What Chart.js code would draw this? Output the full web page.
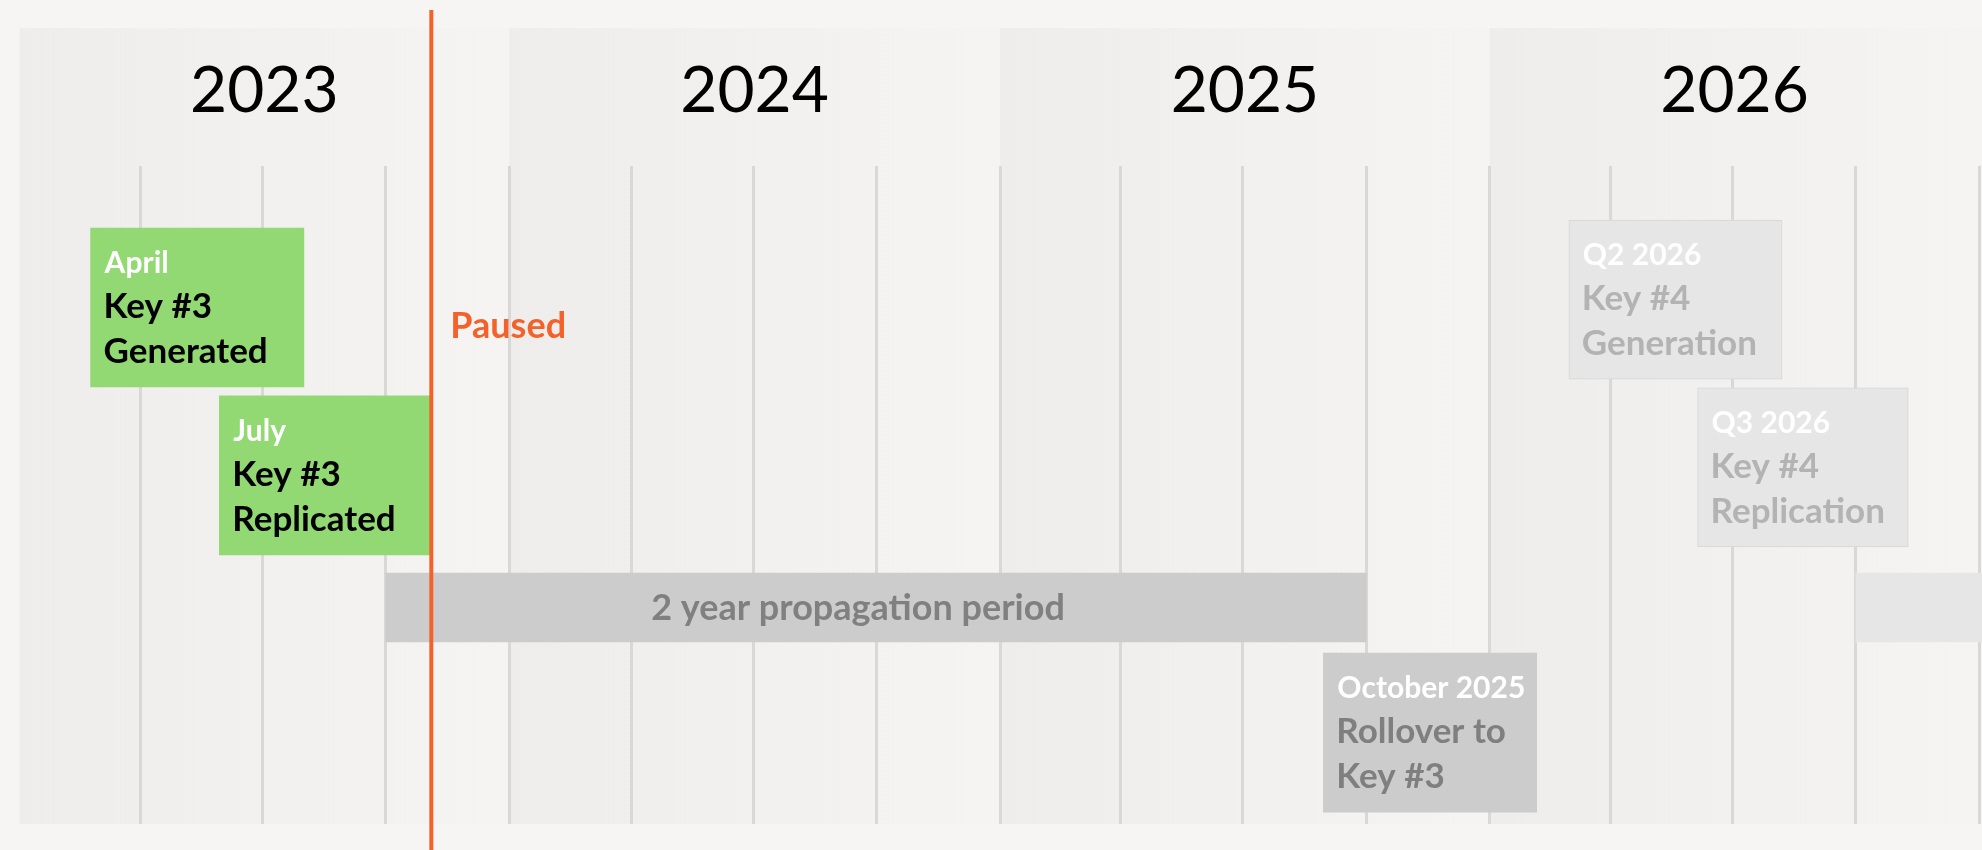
<!DOCTYPE html>
<html>
<head>
<meta charset="utf-8">
<style>
  html, body { margin: 0; padding: 0; background: #f6f5f3; }
  canvas { display: block; }
</style>
<script src="https://cdn.jsdelivr.net/npm/chart.js@4.4.1/dist/chart.umd.min.js"></script>
</head>
<body>
<canvas id="c" width="1982" height="850"></canvas>
<script>
// ---------- DATA ----------
const years = ['2023', '2024', '2025', '2026'];
const yearStarts = ['2023-01-01', '2024-01-01', '2025-01-01', '2026-01-01', '2027-01-01'];
const quarterLines = [
  '2023-04-01', '2023-07-01', '2023-10-01',
  '2024-01-01', '2024-04-01', '2024-07-01', '2024-10-01',
  '2025-01-01', '2025-04-01', '2025-07-01', '2025-10-01',
  '2026-01-01', '2026-04-01', '2026-07-01', '2026-10-01',
  '2027-01-01'
];
const axisStart = '2023-01-01';
const axisEnd = '2027-01-03';

const pausedDate = '2023-11-04';
const pausedLabel = 'Paused';

// milestone callouts (lane = vertical position, 0 = top of grid, 100 = bottom)
const milestoneDates = ['April', 'July', 'October 2025', 'Q2 2026', 'Q3 2026'];
const milestoneTitles = [
  ['Key #3', 'Generated'],
  ['Key #3', 'Replicated'],
  ['Rollover to', 'Key #3'],
  ['Key #4', 'Generation'],
  ['Key #4', 'Replication']
];
const milestoneStart = ['2023-02-23', '2023-05-30', '2025-08-30', '2026-03-01', '2026-06-05'];
const milestoneEnd   = ['2023-08-01', '2023-11-04', '2026-02-05', '2026-08-07', '2026-11-09'];
const milestoneLane  = [21.5, 47.0, 86.1, 20.3, 45.8];
const milestoneStatus = ['done', 'done', 'next', 'future', 'future'];

// propagation periods
const periodLabels = ['2 year propagation period', ''];
const periodStart  = ['2023-10-01', '2026-10-01'];
const periodEnd    = ['2025-10-01', '2028-10-01'];
const periodLane   = [67.1, 67.1];
const periodStatus = ['next', 'future'];

// ---------- STYLES ----------
const STY = {
  done:   { fill: '#92d873', border: '#92d873', bw: 0, date: '#ffffff', text: '#000000' },
  next:   { fill: '#cccccc', border: '#cccccc', bw: 0, date: '#ffffff', text: '#7f7f7f' },
  future: { fill: '#e6e6e6', border: '#d6d6d6', bw: 1, date: '#ffffff', text: '#b3b3b3' }
};
const ORANGE = '#f4622b';
const FONT = 'Lato, "Open Sans", sans-serif';
const HEADER_H = 138;

const T = s => Date.parse(s + 'T00:00:00Z');

// ---------- PLUGINS ----------
const bgPlugin = {
  id: 'bg',
  beforeDraw(chart) {
    const { ctx, chartArea, scales } = chart;
    ctx.save();
    ctx.fillStyle = '#f6f5f3';
    ctx.fillRect(0, 0, chart.width, chart.height);
    const top = chartArea.top - HEADER_H;
    for (let i = 0; i < years.length; i++) {
      const x0 = Math.max(chartArea.left, scales.x.getPixelForValue(T(yearStarts[i])));
      let x1 = scales.x.getPixelForValue(T(yearStarts[i + 1]));
      if (i === years.length - 1) x1 = chartArea.right;
      x1 = Math.min(chartArea.right, x1);
      const g = ctx.createLinearGradient(x0, 0, x1, 0);
      g.addColorStop(0, '#eeedeb');
      g.addColorStop(1, '#f5f4f2');
      ctx.fillStyle = g;
      ctx.fillRect(x0, top, x1 - x0, chartArea.bottom - top);
    }
    ctx.restore();
  }
};

const labelPlugin = {
  id: 'labels',
  afterDatasetsDraw(chart) {
    const { ctx, chartArea } = chart;
    ctx.save();
    ctx.beginPath();
    ctx.rect(chartArea.left, chartArea.top, chartArea.right - chartArea.left, chartArea.bottom - chartArea.top);
    ctx.clip();
    // period labels
    const pm = chart.getDatasetMeta(0);
    pm.data.forEach((el, i) => {
      if (!periodLabels[i]) return;
      const p = el.getProps(['x', 'y', 'base'], true);
      const cx = (p.x + p.base) / 2 - 18;
      ctx.font = 'bold 36px ' + FONT;
      ctx.fillStyle = '#808080';
      ctx.textAlign = 'center';
      ctx.textBaseline = 'alphabetic';
      ctx.fillText(periodLabels[i], cx, p.y + 12);
    });
    // milestone labels
    const mm = chart.getDatasetMeta(1);
    mm.data.forEach((el, i) => {
      const p = el.getProps(['x', 'y', 'base', 'height'], true);
      const left = Math.min(p.x, p.base);
      const top = p.y - p.height / 2;
      const s = STY[milestoneStatus[i]];
      ctx.textAlign = 'left';
      ctx.textBaseline = 'alphabetic';
      ctx.font = 'bold 30px ' + FONT;
      ctx.fillStyle = s.date;
      ctx.fillText(milestoneDates[i], left + 14, top + 45);
      ctx.font = 'bold 35px ' + FONT;
      ctx.fillStyle = s.text;
      milestoneTitles[i].forEach((t, k) => ctx.fillText(t, left + 13, top + 90 + k * 45));
    });
    ctx.restore();
  },
  afterDraw(chart) {
    const { ctx, chartArea, scales } = chart;
    const x = scales.x.getPixelForValue(T(pausedDate));
    ctx.save();
    ctx.strokeStyle = ORANGE;
    ctx.lineWidth = 4;
    ctx.beginPath();
    ctx.moveTo(x, chartArea.top - 156);
    ctx.lineTo(x, chart.height);
    ctx.stroke();
    ctx.font = 'bold 36px ' + FONT;
    ctx.fillStyle = ORANGE;
    ctx.textAlign = 'left';
    ctx.textBaseline = 'alphabetic';
    ctx.fillText(pausedLabel, x + 19, chartArea.top + 172);
    ctx.restore();
  }
};

// ---------- CHART ----------
new Chart(document.getElementById('c'), {
  type: 'bar',
  data: {
    datasets: [
      {
        label: 'Propagation',
        data: periodStart.map((s, i) => ({ x: [T(s), T(periodEnd[i])], y: periodLane[i] })),
        backgroundColor: periodStatus.map(s => STY[s].fill),
        borderWidth: 0,
        barThickness: 69,
        grouped: false,
        borderSkipped: false
      },
      {
        label: 'Milestones',
        data: milestoneStart.map((s, i) => ({ x: [T(s), T(milestoneEnd[i])], y: milestoneLane[i] })),
        backgroundColor: milestoneStatus.map(s => STY[s].fill),
        borderColor: milestoneStatus.map(s => STY[s].border),
        borderWidth: milestoneStatus.map(s => STY[s].bw),
        barThickness: 159,
        grouped: false,
        borderSkipped: false
      }
    ]
  },
  options: {
    indexAxis: 'y',
    responsive: false,
    animation: false,
    devicePixelRatio: 1,
    layout: { padding: { top: 16, left: 19.5, right: 0, bottom: 26 } },
    plugins: { legend: { display: false }, tooltip: { enabled: false } },
    scales: {
      x: {
        type: 'linear',
        position: 'bottom',
        min: T(axisStart),
        max: T(axisEnd),
        afterBuildTicks: s => { s.ticks = quarterLines.map(d => ({ value: T(d) })); },
        ticks: { display: false },
        grid: { color: '#d9d8d6', lineWidth: 3, drawTicks: false },
        border: { display: false }
      },
      x2: {
        type: 'linear',
        position: 'top',
        min: T(axisStart),
        max: T(axisEnd),
        afterBuildTicks: s => {
          s.ticks = years.map((y, i) => ({ value: (T(yearStarts[i]) + T(yearStarts[i + 1])) / 2 }));
        },
        ticks: {
          callback: (v, i) => years[i],
          font: { family: FONT, size: 64, weight: 'normal', lineHeight: 1.97 },
          color: '#000000',
          padding: 12,
          maxRotation: 0,
          autoSkip: false
        },
        grid: { display: false, drawTicks: false },
        border: { display: false }
      },
      y: {
        type: 'linear',
        min: 0,
        max: 100,
        reverse: true,
        offset: false,
        display: false
      }
    }
  },
  plugins: [bgPlugin, labelPlugin]
});
</script>
</body>
</html>
